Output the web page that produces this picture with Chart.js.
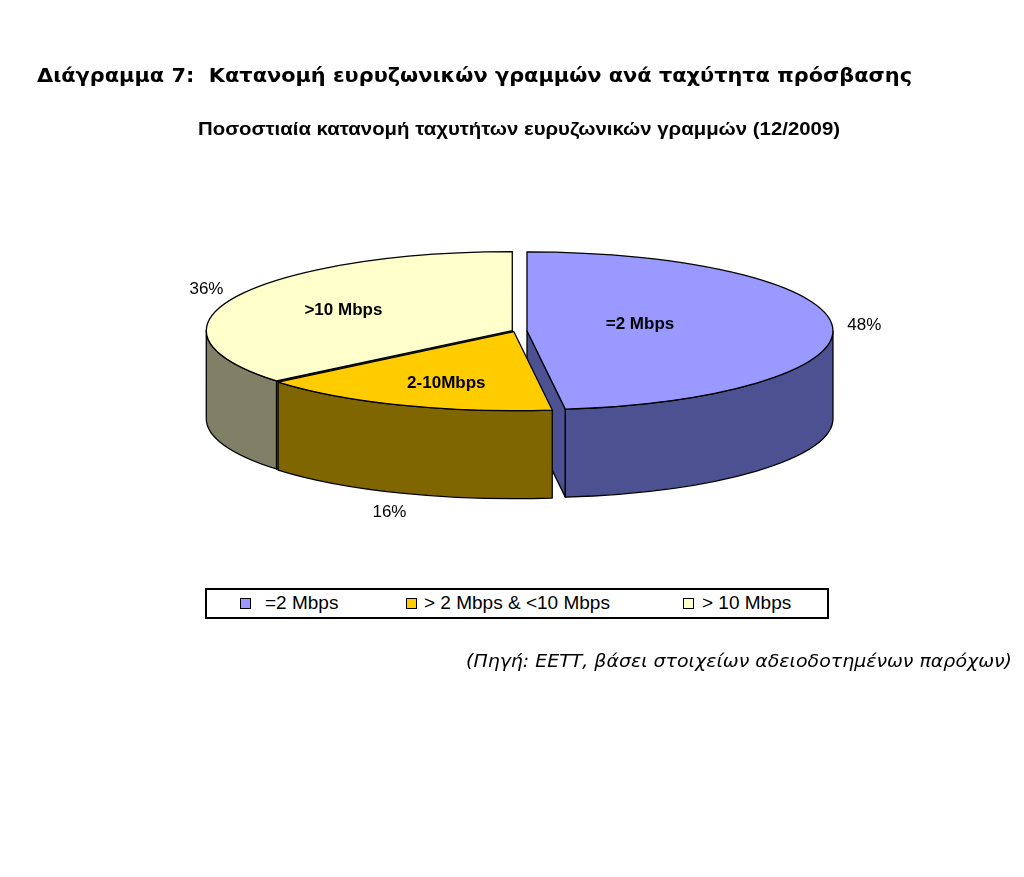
<!DOCTYPE html>
<html>
<head>
<meta charset="utf-8">
<script src="https://cdn.jsdelivr.net/npm/chart.js@4.4.0/dist/chart.umd.min.js"></script>
<style>
html,body{margin:0;padding:0;background:#fff;}
#wrap{position:relative;width:1024px;height:877px;overflow:hidden;background:#fff;}
#c{position:absolute;left:0;top:0;}
.fit{position:absolute;white-space:pre;transform-origin:0 0;line-height:1;color:#000;}
#title{left:37px;top:63px;font:bold 20px "DejaVu Sans";}
#subtitle{left:198px;top:118px;font:bold 19px "Liberation Sans";}
#source{left:466px;top:650px;font:oblique 18px "DejaVu Sans";}
#legend{position:absolute;left:205px;top:588px;width:620px;height:27px;border:2px solid #000;background:#fff;}
.li{position:absolute;top:2px;height:27px;line-height:27px;font:19px "Liberation Sans";color:#000;white-space:pre;}
.sw{position:absolute;top:8px;width:9px;height:9px;border:1px solid #000;}
</style>
</head>
<body>
<div id="wrap">
  <canvas id="c" width="1024" height="877"></canvas>
  <div id="title" class="fit" data-w="875"></div>
  <div id="subtitle" class="fit" data-w="642"></div>
  <div id="legend"></div>
  <div id="source" class="fit" data-w="546"></div>
</div>
<script>
// ---- data ----
const chartTitle = 'Διάγραμμα 7:  Κατανομή ευρυζωνικών γραμμών ανά ταχύτητα πρόσβασης';
const chartSubtitle = 'Ποσοστιαία κατανομή ταχυτήτων ευρυζωνικών γραμμών (12/2009)';
const sourceNote = '(Πηγή: ΕΕΤΤ, βάσει στοιχείων αδειοδοτημένων παρόχων)';
const categories = ['=2 Mbps', '> 2 Mbps & <10 Mbps', '> 10 Mbps'];
const sliceLabels = ['=2 Mbps', '2-10Mbps', '>10 Mbps'];
const shares = [48, 16, 36];

// ---- styles ----
const topColors = ['#9999FF', '#FFCC00', '#FFFFCC'];
const sideColors = ['#4C5192', '#806600', '#808066'];

document.getElementById('title').textContent = chartTitle;
document.getElementById('subtitle').textContent = chartSubtitle;
document.getElementById('source').textContent = sourceNote;

// legend
(function(){
  const lg = document.getElementById('legend');
  const slots = [[33, 58], [199, 217], [476, 495]];
  categories.forEach((c, i) => {
    const sw = document.createElement('div');
    sw.className = 'sw'; sw.style.left = slots[i][0] + 'px'; sw.style.background = topColors[i];
    lg.appendChild(sw);
    const t = document.createElement('div');
    t.className = 'li'; t.style.left = slots[i][1] + 'px'; t.textContent = c;
    lg.appendChild(t);
  });
})();

function fitAll(){
  document.querySelectorAll('.fit').forEach(el => {
    el.style.transform = 'none';
    const w = el.getBoundingClientRect().width;
    el.style.transform = 'scaleX(' + (el.dataset.w / w) + ')';
  });
}
fitAll();
if (document.fonts && document.fonts.ready) document.fonts.ready.then(fitAll);

const pie3d = {
  id: 'pie3d',
  beforeDatasetsDraw(chart, args, o) {
    const ctx = chart.ctx;
    const meta = chart.getDatasetMeta(0);
    const ds = chart.data.datasets[0];
    const total = ds.data.reduce((a, b) => a + b, 0);
    const D = o.depth;
    const S = meta.data.map((arc, i) => {
      const off = arc.options.offset || 0;
      const mid = (arc.startAngle + arc.endAngle) / 2;
      const rx = arc.outerRadius, ry = rx * o.tilt;
      return {i, a0: arc.startAngle, a1: arc.endAngle, mid, rx, ry,
        cx: arc.x + Math.cos(mid) * off, cy: arc.y + Math.sin(mid) * off * o.tilt,
        top: arc.options.backgroundColor, side: o.sideColors[i]};
    });
    const P = (s, a, dz) => [s.cx + s.rx * Math.cos(a), s.cy + s.ry * Math.sin(a) + (dz || 0)];
    ctx.save();
    ctx.lineJoin = 'round';
    ctx.lineWidth = o.lineWidth;
    ctx.strokeStyle = o.stroke;
    // radial faces
    const faces = [];
    S.forEach(s => {
      if (-Math.cos(s.a0) > 0.001) faces.push({s, a: s.a0});
      if (Math.cos(s.a1) > 0.001) faces.push({s, a: s.a1});
    });
    faces.sort((f, g) => P(f.s, f.a)[1] - P(g.s, g.a)[1]);
    faces.forEach(({s, a}) => {
      const [x, y] = P(s, a);
      ctx.beginPath();
      ctx.moveTo(s.cx, s.cy); ctx.lineTo(x, y); ctx.lineTo(x, y + D); ctx.lineTo(s.cx, s.cy + D);
      ctx.closePath();
      ctx.fillStyle = s.side; ctx.fill(); ctx.stroke();
    });
    // outer walls (front half)
    S.forEach(s => {
      const lo = Math.max(s.a0, 0), hi = Math.min(s.a1, Math.PI);
      if (hi <= lo) return;
      ctx.beginPath();
      ctx.ellipse(s.cx, s.cy, s.rx, s.ry, 0, lo, hi, false);
      ctx.ellipse(s.cx, s.cy + D, s.rx, s.ry, 0, hi, lo, true);
      ctx.closePath();
      ctx.fillStyle = s.side; ctx.fill(); ctx.stroke();
    });
    // tops
    S.forEach(s => {
      ctx.beginPath();
      ctx.moveTo(s.cx, s.cy);
      ctx.ellipse(s.cx, s.cy, s.rx, s.ry, 0, s.a0, s.a1, false);
      ctx.closePath();
      ctx.fillStyle = s.top; ctx.fill(); ctx.stroke();
    });
    // labels
    ctx.fillStyle = '#000';
    ctx.textAlign = 'center';
    ctx.textBaseline = 'middle';
    S.forEach(s => {
      const f = o.labelRadius[s.i];
      ctx.font = 'bold 17px "Liberation Sans"';
      ctx.fillText(o.sliceLabels[s.i],
        s.cx + f * s.rx * Math.cos(s.mid), s.cy + f * s.ry * Math.sin(s.mid) + o.labelDy[s.i]);
      const [rx0, ry0] = P(s, s.mid);
      const pct = Math.round(ds.data[s.i] / total * 100) + '%';
      ctx.font = '17px "Liberation Sans"';
      ctx.fillText(pct, rx0 + Math.cos(s.mid) * 32,
        ry0 + Math.sin(s.mid) * 20 + (Math.sin(s.mid) > 0 ? D : 0) + 1);
    });
    ctx.restore();
    return false;
  }
};

new Chart(document.getElementById('c'), {
  type: 'pie',
  data: {
    labels: categories,
    datasets: [{
      data: shares,
      backgroundColor: topColors,
      offset: [12, 3, 3],
      radius: 306,
      borderWidth: 0
    }]
  },
  options: {
    responsive: false,
    animation: false,
    events: [],
    layout: {padding: {left: 6, right: 0, top: 0, bottom: 215}},
    plugins: {
      legend: {display: false},
      tooltip: {enabled: false},
      pie3d: {tilt: 0.258, depth: 88, sideColors: sideColors, stroke: '#000', lineWidth: 1.3,
              sliceLabels: sliceLabels, labelRadius: [0.37, 0.6, 0.61], labelDy: [-5, 8, 0]}
    }
  },
  plugins: [pie3d]
});
</script>
</body>
</html>
